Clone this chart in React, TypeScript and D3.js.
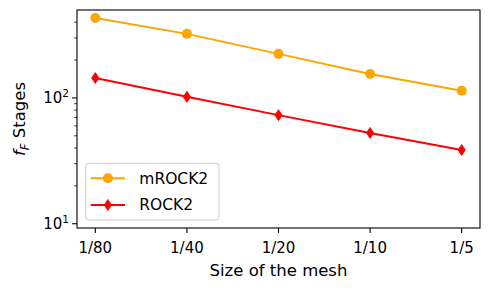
import * as d3 from "d3";

const meshSizes = ["1/80", "1/40", "1/20", "1/10", "1/5"];
const mrock2Stages = [432, 323, 224, 155, 114];
const rock2Stages = [144, 102, 73, 52.7, 38.6];
const yMajorTicks = [10, 100];
const yMinorTicks = [20, 30, 40, 50, 60, 70, 80, 90, 200, 300, 400];

const W = 490;
const H = 290;
const margin = { top: 10, right: 10, bottom: 62, left: 77 };
const FONT = "DejaVu Sans, sans-serif";

const App = () => {
  const pw = W - margin.left - margin.right;
  const ph = H - margin.top - margin.bottom;

  // matplotlib-like 5% padding on categorical positions
  const x = d3
    .scaleLinear()
    .domain([-0.2, meshSizes.length - 1 + 0.2])
    .range([0, pw]);
  const y = d3.scaleLog().domain([9.25, 500]).range([ph, 0]);

  const line = d3
    .line<number>()
    .x((_, i) => x(i))
    .y((d) => y(d));

  const diamond = (cx: number, cy: number) =>
    `M${cx},${cy - 5.5} L${cx + 3.7},${cy} L${cx},${cy + 5.5} L${cx - 3.7},${cy} Z`;

  return (
    <svg
      width={W}
      height={H}
      style={{ position: "absolute", left: 0, top: 0, background: "#fff" }}
      fontFamily={FONT}
    >
      <g transform={`translate(${margin.left},${margin.top})`}>
        {/* series */}
        <path d={line(mrock2Stages) ?? ""} fill="none" stroke="#FFA500" strokeWidth={2} />
        {mrock2Stages.map((d, i) => (
          <circle key={"m" + i} cx={x(i)} cy={y(d)} r={5} fill="#FFA500" />
        ))}
        <path d={line(rock2Stages) ?? ""} fill="none" stroke="#FF0000" strokeWidth={2} />
        {rock2Stages.map((d, i) => (
          <path key={"r" + i} d={diamond(x(i), y(d))} fill="#FF0000" stroke="#FF0000" strokeWidth={0.8} />
        ))}

        {/* frame */}
        <rect x={0} y={0} width={pw} height={ph} fill="none" stroke="#000" strokeWidth={1.1} />

        {/* x axis */}
        {meshSizes.map((s, i) => (
          <g key={s} transform={`translate(${x(i)},${ph})`}>
            <line y1={0} y2={4.9} stroke="#000" strokeWidth={1.1} />
            <text y={25} textAnchor="middle" fontSize={15}>
              {s}
            </text>
          </g>
        ))}
        <text x={pw / 2} y={ph + 48} textAnchor="middle" fontSize={16.5}>
          Size of the mesh
        </text>

        {/* y axis */}
        {yMinorTicks.map((t) => (
          <line key={t} x1={-2.8} x2={0} y1={y(t)} y2={y(t)} stroke="#000" strokeWidth={0.8} />
        ))}
        {yMajorTicks.map((t) => (
          <g key={t} transform={`translate(0,${y(t)})`}>
            <line x1={-4.9} x2={0} stroke="#000" strokeWidth={1.1} />
            <text x={-8} y={5.5} textAnchor="end" fontSize={15}>
              10
              <tspan dy={-6} fontSize={10.5}>
                {Math.round(Math.log10(t))}
              </tspan>
            </text>
          </g>
        ))}
        <text
          transform={`translate(${-52},${ph / 2}) rotate(-90)`}
          textAnchor="middle"
          fontSize={16.5}
        >
          <tspan fontStyle="italic">f</tspan>
          <tspan fontStyle="italic" fontSize={11.5} dy={4}>
            F
          </tspan>
          <tspan dy={-4}> Stages</tspan>
        </text>

        {/* legend */}
        <g transform={`translate(${85.7 - margin.left},${163.3 - margin.top})`}>
          <rect
            width={133.3}
            height={56.7}
            rx={3}
            fill="#fff"
            fillOpacity={0.8}
            stroke="#ccc"
            strokeWidth={1}
          />
          <line x1={5} x2={39.3} y1={15} y2={15} stroke="#FFA500" strokeWidth={2} />
          <circle cx={22.2} cy={15} r={5} fill="#FFA500" />
          <text x={53.6} y={20.5} fontSize={15.5}>
            mROCK2
          </text>
          <line x1={5} x2={39.3} y1={41.7} y2={41.7} stroke="#FF0000" strokeWidth={2} />
          <path d={diamond(22.2, 41.7)} fill="#FF0000" stroke="#FF0000" strokeWidth={0.8} />
          <text x={53.6} y={47.2} fontSize={15.5}>
            ROCK2
          </text>
        </g>
      </g>
    </svg>
  );
};

export default App;
